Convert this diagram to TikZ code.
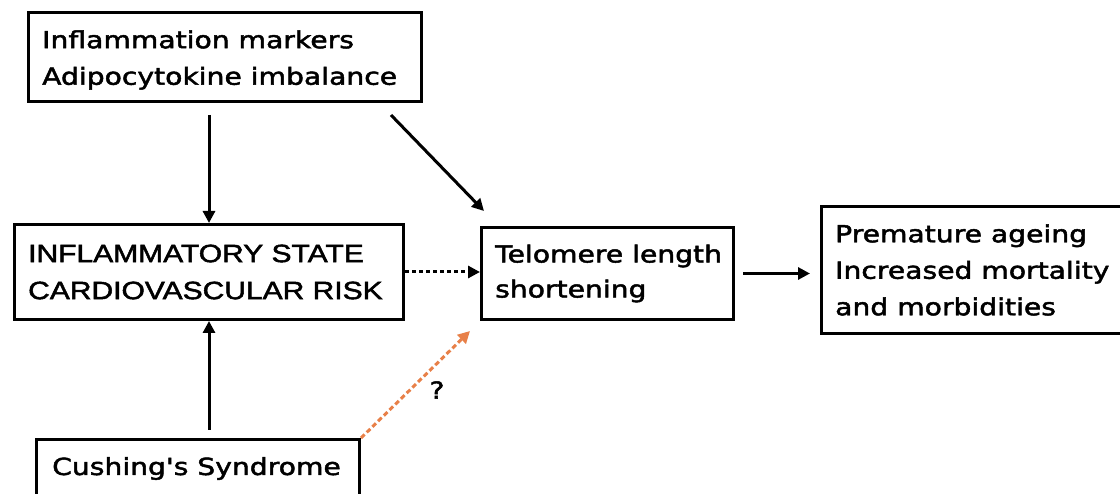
\documentclass[tikz,border=0pt]{standalone}
\usepackage{fontspec}
\newfontfamily\dvsfont[FakeStretch=1.2,FakeBold=2]{DejaVu Sans}
\newfontfamily\capsfont[FakeStretch=1.2,FakeBold=2]{Liberation Sans}
\usetikzlibrary{arrows.meta}
\definecolor{qorange}{RGB}{232,128,72}
\begin{document}
\begin{tikzpicture}[x=1pt,y=-1pt,
  box/.style={draw=black, line width=3pt, anchor=north west, inner sep=0pt},
  txt/.style={anchor=west, align=left, inner sep=0pt, font=\dvsfont\fontsize{23.5}{36.5}\selectfont},
  arr/.style={line width=3pt, -{Triangle[length=12pt,width=12pt]}},
  dotarr/.style={arr, dash pattern=on 4pt off 3pt},
  qarr/.style={line width=3pt, qorange, dash pattern=on 5pt off 3pt, -{Triangle[length=12pt,width=12pt]}},
]
\useasboundingbox (0,0) rectangle (1120,494);
\fill[white] (0,0) rectangle (1120,494);
\clip (0,0) rectangle (1120,494);
% boxes
\node[box, minimum width=393pt, minimum height=89pt] (A) at (27,11) {};
\node[box, minimum width=389pt, minimum height=95pt] (B) at (13,223) {};
\node[box, minimum width=252pt, minimum height=92pt] (C) at (480,226) {};
\node[box, minimum width=310pt, minimum height=127pt] (D) at (820,205) {};
\node[box, minimum width=323pt, minimum height=58pt] (E) at (35,438) {};
% texts
\node[txt] (At) at ([xshift=15pt,yshift=-3pt]A.west) {Inflammation markers\\Adipocytokine imbalance};
\node[txt, font=\capsfont\fontsize{25}{37}\selectfont] (Bt) at ([xshift=15pt]B.west) {INFLAMMATORY STATE\\CARDIOVASCULAR RISK};
\node[txt, font=\dvsfont\fontsize{23.5}{35}\selectfont] (Ct) at ([xshift=15pt]C.west) {Telomere length\\shortening};
\node[txt] (Dt) at ([xshift=15pt]D.west) {Premature ageing\\Increased mortality\\and morbidities};
\node[txt] (Et) at ([xshift=17pt]E.west) {Cushing's Syndrome};
\node[font=\dvsfont\fontsize{23.5}{28}\selectfont, inner sep=0pt] (q) at (437,390) {?};
% connectors
\draw[arr, shorten <=12pt] (A.south -| B.north) -- (B.north);
\draw[arr, shorten <=8pt] (E.north -| B.south) -- (B.south);
\draw[arr] ([xshift=-32pt,yshift=-12pt]A.south east) -- ([xshift=4pt,yshift=15pt]C.north west);
\draw[dotarr] (B.east) -- (B.east -| C.west);
\draw[arr, shorten <=8pt, shorten >=10pt] (C.east) -- (C.east -| D.west);
\draw[qarr] (E.north east) -- ([xshift=-10pt,yshift=-10pt]C.south west);
\end{tikzpicture}
\end{document}
